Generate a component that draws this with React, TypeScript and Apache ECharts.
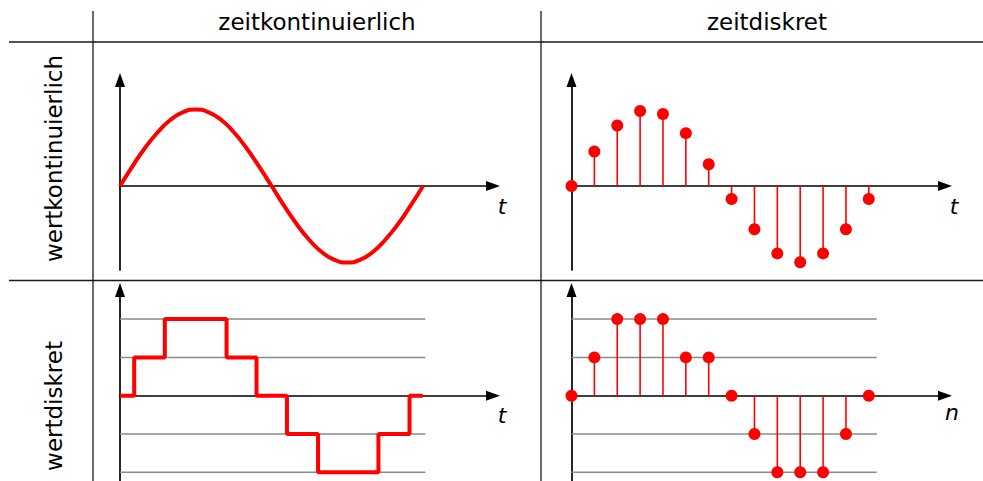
import React, { useEffect, useRef } from 'react';
import * as echarts from 'echarts';

// ---------- data ----------
const colHeaders = ['zeitkontinuierlich', 'zeitdiskret'];
const rowHeaders = ['wertkontinuierlich', 'wertdiskret'];
const axisNames = ['t', 't', 't', 'n'];

// continuous sine (peak / zero / trough included)
const contT = [0, 0.55, 1.1, 1.66, 2.21, 2.76, 3.31, 3.86, 4.42, 4.97, 5.52, 6.07, 6.63, 7.18, 7.73, 8.28, 8.83, 9.39, 9.94, 10.49, 11.04, 11.59, 12.15, 12.7, 13.25];
const contV = [0, 0.52, 1.0, 1.41, 1.73, 1.93, 2.0, 1.93, 1.73, 1.41, 1.0, 0.52, 0, -0.52, -1.0, -1.41, -1.73, -1.93, -2.0, -1.93, -1.73, -1.41, -1.0, -0.52, 0];

// sampled sine
const sampleN = [0, 1, 2, 3, 4, 5, 6, 7, 8, 9, 10, 11, 12, 13];
const sampleV = [0, 0.9, 1.58, 1.96, 1.88, 1.38, 0.57, -0.34, -1.13, -1.76, -1.99, -1.76, -1.13, -0.34];

// quantized continuous (step edges and levels)
const stepX = [0, 0.62, 1.96, 4.66, 5.97, 7.3, 8.66, 11.3, 12.66, 13.24];
const stepY = [0, 1, 2, 1, 0, -1, -2, -1, 0, 0];

// quantized samples
const quantV = [0, 1, 2, 2, 2, 1, 1, 0, -1, -2, -2, -2, -1, 0];

// quantization levels (grid lines)
const gridLevels = [-2, -1, 1, 2];
const gridEnd = 13.35;

// ---------- layout ----------
const W = 983;
const H = 481;
const PXU = 22.87; // px per sample unit
const RED = '#ff0000';
const FONT = 'DejaVu Sans';

const panels = [
  { left: 120, top: 80, width: 373, height: 190, yMin: -2.193, yMax: 2.768 },
  { left: 571.5, top: 80, width: 373.5, height: 190, yMin: -2.193, yMax: 2.768 },
  { left: 120, top: 290, width: 373, height: 191, yMin: -2.227, yMax: 2.76 },
  { left: 571.5, top: 290, width: 373.5, height: 191, yMin: -2.227, yMax: 2.76 },
];

const axisLine = {
  show: true,
  onZero: true,
  symbol: ['none', 'triangle'],
  symbolSize: [10, 14],
  lineStyle: { color: '#000', width: 1.7 },
};

const stemSeries = (idx: number, vals: number[]) => ({
  type: 'custom',
  xAxisIndex: idx,
  yAxisIndex: idx,
  z: 3,
  data: sampleN.map((n, i) => [n, vals[i]]),
  encode: { x: 0, y: 1 },
  renderItem: (_p: any, api: any) => {
    const x = api.value(0);
    const v = api.value(1);
    const a = api.coord([x, 0]);
    const b = api.coord([x, v]);
    return {
      type: 'line',
      shape: { x1: a[0], y1: a[1], x2: b[0], y2: b[1] },
      style: { stroke: RED, lineWidth: 1.6 },
    };
  },
});

const dotSeries = (idx: number, vals: number[]) => ({
  type: 'scatter',
  xAxisIndex: idx,
  yAxisIndex: idx,
  z: 4,
  symbolSize: 12,
  itemStyle: { color: RED, opacity: 1 },
  data: sampleN.map((n, i) => [n, vals[i]]),
});

const gridSeries = (idx: number) => ({
  type: 'custom',
  xAxisIndex: idx,
  yAxisIndex: idx,
  z: 1,
  silent: true,
  data: gridLevels.map((l) => [gridEnd, l]),
  encode: { x: 0, y: 1 },
  renderItem: (_p: any, api: any) => {
    const l = api.value(1);
    const a = api.coord([0, l]);
    const b = api.coord([api.value(0), l]);
    return {
      type: 'line',
      shape: { x1: a[0], y1: a[1], x2: b[0], y2: b[1] },
      style: { stroke: '#8a8a8a', lineWidth: 1.5 },
    };
  },
});

const tableLine = (x1: number, y1: number, x2: number, y2: number) => ({
  type: 'line',
  shape: { x1, y1, x2, y2 },
  style: { stroke: '#1a1a1a', lineWidth: 1.3 },
  z: 10,
});

const textStyle = (text: string, size: number, italic = false) => ({
  text,
  fontSize: size,
  fontFamily: FONT,
  fontStyle: italic ? 'italic' : 'normal',
  fill: '#000',
  align: 'center',
  verticalAlign: 'middle',
});

const option: any = {
  animation: false,
  backgroundColor: '#fff',
  grid: panels.map((p) => ({ left: p.left, top: p.top, width: p.width, height: p.height, containLabel: false })),
  xAxis: panels.map((p, i) => ({
    type: 'value',
    gridIndex: i,
    min: 0,
    max: p.width / PXU,
    axisLine,
    axisTick: { show: false },
    axisLabel: { show: false },
    splitLine: { show: false },
  })),
  yAxis: panels.map((p, i) => ({
    type: 'value',
    gridIndex: i,
    min: p.yMin,
    max: p.yMax,
    axisLine,
    axisTick: { show: false },
    axisLabel: { show: false },
    splitLine: { show: false },
  })),
  series: [
    {
      type: 'line',
      xAxisIndex: 0,
      yAxisIndex: 0,
      z: 3,
      smooth: true,
      symbol: 'none',
      lineStyle: { color: RED, width: 4 },
      data: contT.map((t, i) => [t, contV[i]]),
    },
    stemSeries(1, sampleV),
    dotSeries(1, sampleV),
    gridSeries(2),
    {
      type: 'line',
      xAxisIndex: 2,
      yAxisIndex: 2,
      z: 3,
      step: 'end',
      symbol: 'none',
      lineStyle: { color: RED, width: 4 },
      data: stepX.map((x, i) => [x, stepY[i]]),
    },
    gridSeries(3),
    stemSeries(3, quantV),
    dotSeries(3, quantV),
  ],
  graphic: [
    tableLine(9, 42, W, 42),
    tableLine(9, 280.5, W, 280.5),
    tableLine(93, 11, 93, H),
    tableLine(541, 11, 541, H),
    { type: 'text', x: 317, y: 22, style: textStyle(colHeaders[0], 23) },
    { type: 'text', x: 767, y: 22, style: textStyle(colHeaders[1], 23) },
    { type: 'text', x: 54, y: 158.5, rotation: Math.PI / 2, style: textStyle(rowHeaders[0], 23) },
    { type: 'text', x: 54, y: 406, rotation: Math.PI / 2, style: textStyle(rowHeaders[1], 23) },
    { type: 'text', x: 502, y: 206, style: textStyle(axisNames[0], 22, true) },
    { type: 'text', x: 954, y: 206, style: textStyle(axisNames[1], 22, true) },
    { type: 'text', x: 502, y: 415, style: textStyle(axisNames[2], 22, true) },
    { type: 'text', x: 952, y: 412, style: textStyle(axisNames[3], 22, true) },
  ],
};

export default function App() {
  const ref = useRef<HTMLDivElement>(null);
  useEffect(() => {
    const chart = echarts.init(ref.current!, null, { renderer: 'svg', width: W, height: H });
    chart.setOption(option);
    return () => chart.dispose();
  }, []);
  return (
    <div
      ref={ref}
      style={{ position: 'fixed', left: 0, top: 0, width: W, height: H, background: '#fff' }}
    />
  );
}
